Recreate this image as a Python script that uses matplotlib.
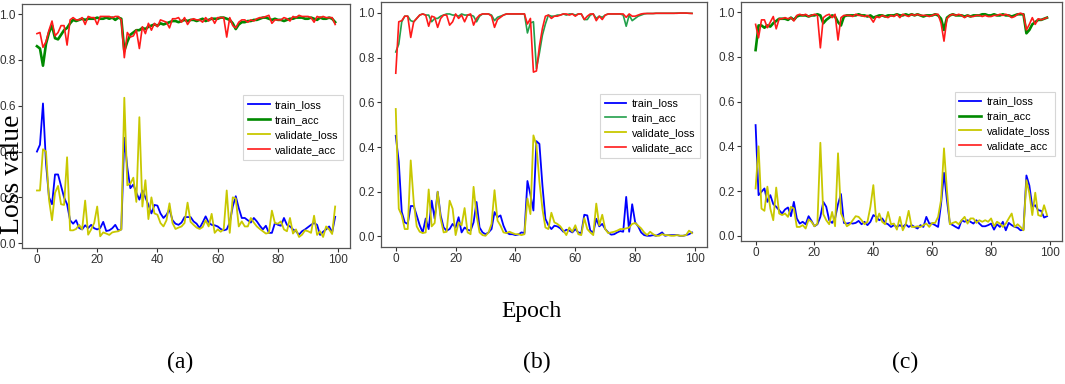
import numpy as np
import matplotlib
matplotlib.use('Agg')
import matplotlib.pyplot as plt
from matplotlib import font_manager

epochs = list(range(100))

# panel (a)
a_train_loss = [0.40, 0.43, 0.61, 0.35, 0.20, 0.17, 0.30, 0.30, 0.25, 0.20,
                0.17, 0.10, 0.085, 0.10, 0.066, 0.06, 0.078, 0.066, 0.08, 0.065,
                0.06, 0.066, 0.093, 0.053, 0.056, 0.065, 0.08, 0.056, 0.06, 0.46,
                0.33, 0.24, 0.256, 0.22, 0.19, 0.23, 0.20, 0.167, 0.13, 0.167,
                0.164, 0.13, 0.11, 0.124, 0.148, 0.10, 0.085, 0.08, 0.09, 0.114,
                0.114, 0.114, 0.095, 0.085, 0.066, 0.09, 0.117, 0.09, 0.08, 0.078,
                0.073, 0.062, 0.056, 0.06, 0.09, 0.16, 0.205, 0.153, 0.11, 0.11,
                0.10, 0.09, 0.11, 0.095, 0.076, 0.06, 0.076, 0.045, 0.045, 0.088,
                0.08, 0.076, 0.11, 0.08, 0.073, 0.06, 0.052, 0.037, 0.052, 0.06,
                0.07, 0.08, 0.088, 0.08, 0.036, 0.05, 0.06, 0.073, 0.047, 0.115]
a_train_acc = [0.86, 0.85, 0.775, 0.87, 0.92, 0.95, 0.895, 0.89, 0.91, 0.93,
               0.94, 0.96, 0.975, 0.97, 0.975, 0.98, 0.975, 0.98, 0.98, 0.98,
               0.985, 0.98, 0.98, 0.985, 0.98, 0.985, 0.975, 0.985, 0.98, 0.84,
               0.88, 0.91, 0.92, 0.93, 0.93, 0.94, 0.935, 0.945, 0.95, 0.955,
               0.95, 0.96, 0.955, 0.96, 0.965, 0.97, 0.97, 0.965, 0.97, 0.975,
               0.97, 0.975, 0.975, 0.97, 0.975, 0.98, 0.97, 0.975, 0.98, 0.98,
               0.98, 0.985, 0.985, 0.98, 0.975, 0.96, 0.935, 0.955, 0.965, 0.965,
               0.97, 0.97, 0.975, 0.975, 0.98, 0.985, 0.985, 0.98, 0.975, 0.98,
               0.975, 0.975, 0.97, 0.975, 0.98, 0.98, 0.985, 0.985, 0.985, 0.98,
               0.98, 0.985, 0.98, 0.975, 0.985, 0.98, 0.98, 0.985, 0.98, 0.965]
a_val_loss = [0.23, 0.23, 0.41, 0.40, 0.19, 0.10, 0.22, 0.25, 0.17, 0.167,
              0.375, 0.056, 0.056, 0.062, 0.08, 0.06, 0.186, 0.037, 0.06, 0.088,
              0.16, 0.03, 0.047, 0.042, 0.036, 0.047, 0.05, 0.052, 0.06, 0.635,
              0.253, 0.26, 0.286, 0.18, 0.55, 0.16, 0.275, 0.105, 0.20, 0.13,
              0.124, 0.088, 0.073, 0.10, 0.174, 0.088, 0.062, 0.068, 0.073, 0.088,
              0.177, 0.093, 0.08, 0.068, 0.062, 0.07, 0.10, 0.073, 0.128, 0.045,
              0.06, 0.05, 0.06, 0.23, 0.045, 0.20, 0.195, 0.073, 0.095, 0.073,
              0.073, 0.11, 0.09, 0.073, 0.062, 0.052, 0.042, 0.045, 0.142, 0.088,
              0.085, 0.095, 0.06, 0.052, 0.11, 0.042, 0.06, 0.027, 0.037, 0.056,
              0.052, 0.045, 0.12, 0.036, 0.052, 0.027, 0.073, 0.06, 0.04, 0.16]
a_val_acc = [0.915, 0.92, 0.855, 0.88, 0.93, 0.97, 0.905, 0.92, 0.95, 0.95,
             0.865, 0.975, 0.985, 0.975, 0.975, 0.985, 0.955, 0.99, 0.985, 0.985,
             0.955, 0.99, 0.99, 0.99, 0.99, 0.985, 0.99, 0.99, 0.975, 0.81,
             0.92, 0.90, 0.905, 0.93, 0.85, 0.945, 0.915, 0.96, 0.93, 0.96,
             0.945, 0.975, 0.97, 0.965, 0.94, 0.98, 0.98, 0.985, 0.965, 0.985,
             0.955, 0.975, 0.98, 0.975, 0.975, 0.965, 0.985, 0.97, 0.985, 0.96,
             0.985, 0.985, 0.985, 0.90, 0.985, 0.95, 0.94, 0.965, 0.975, 0.975,
             0.965, 0.975, 0.97, 0.98, 0.985, 0.985, 0.99, 0.995, 0.96, 0.975,
             0.975, 0.975, 0.985, 0.98, 0.97, 0.99, 0.985, 0.995, 0.99, 0.99,
             0.99, 0.985, 0.965, 0.99, 0.985, 0.99, 0.985, 0.985, 0.985, 0.955]

# panel (b)
b_train_loss = [0.45, 0.335, 0.11, 0.063, 0.056, 0.136, 0.136, 0.094, 0.05, 0.018,
                0.08, 0.033, 0.16, 0.08, 0.20, 0.094, 0.04, 0.026, 0.033, 0.056,
                0.04, 0.086, 0.018, 0.04, 0.03, 0.026, 0.063, 0.154, 0.04, 0.018,
                0.01, 0.018, 0.033, 0.109, 0.086, 0.094, 0.048, 0.018, 0.01, 0.01,
                0.006, 0.009, 0.018, 0.015, 0.248, 0.187, 0.116, 0.426, 0.414, 0.23,
                0.079, 0.05, 0.033, 0.048, 0.045, 0.036, 0.021, 0.03, 0.026, 0.018,
                0.033, 0.018, 0.015, 0.097, 0.094, 0.026, 0.018, 0.079, 0.045, 0.056,
                0.033, 0.018, 0.008, 0.01, 0.018, 0.024, 0.021, 0.177, 0.021, 0.144,
                0.063, 0.045, 0.018, 0.006, 0.003, 0.003, 0.006, 0.003, 0.01, 0.018,
                0.003, 0.006, 0.006, 0.006, 0.006, 0.003, 0.003, 0.006, 0.01, 0.018]
b_train_acc = [0.825, 0.86, 0.96, 0.985, 0.985, 0.965, 0.96, 0.975, 0.99, 0.995,
               0.99, 0.99, 0.96, 0.975, 0.975, 0.985, 0.99, 0.995, 0.995, 0.99,
               0.99, 0.985, 0.995, 0.99, 0.99, 0.99, 0.985, 0.96, 0.985, 0.995,
               0.995, 0.995, 0.99, 0.965, 0.98, 0.985, 0.99, 0.995, 0.995, 0.995,
               0.995, 0.995, 0.995, 0.995, 0.91, 0.955, 0.96, 0.75, 0.82, 0.90,
               0.95, 0.99, 0.985, 0.985, 0.99, 0.99, 0.995, 0.99, 0.995, 0.995,
               0.99, 0.995, 0.995, 0.97, 0.97, 0.99, 0.995, 0.975, 0.985, 0.98,
               0.99, 0.995, 0.995, 0.995, 0.995, 0.995, 0.99, 0.94, 0.99, 0.965,
               0.975, 0.985, 0.99, 0.995, 0.997, 0.997, 0.997, 0.998, 0.998, 0.998,
               0.998, 0.998, 0.998, 0.998, 0.999, 0.999, 0.999, 0.999, 0.998, 0.998]
b_val_loss = [0.57, 0.124, 0.094, 0.033, 0.033, 0.34, 0.154, 0.045, 0.021, 0.015,
              0.018, 0.21, 0.045, 0.06, 0.20, 0.079, 0.018, 0.021, 0.16, 0.124,
              0.006, 0.063, 0.05, 0.127, 0.018, 0.01, 0.222, 0.094, 0.018, 0.006,
              0.003, 0.018, 0.056, 0.207, 0.071, 0.048, 0.018, 0.015, 0.021, 0.015,
              0.01, 0.01, 0.006, 0.01, 0.17, 0.10, 0.452, 0.408, 0.245, 0.124,
              0.04, 0.033, 0.106, 0.063, 0.056, 0.045, 0.026, 0.006, 0.04, 0.021,
              0.05, 0.01, 0.006, 0.082, 0.033, 0.018, 0.006, 0.147, 0.05, 0.097,
              0.033, 0.015, 0.018, 0.021, 0.026, 0.033, 0.033, 0.036, 0.04, 0.056,
              0.06, 0.048, 0.036, 0.018, 0.006, 0.021, 0.01, 0.003, 0.003, 0.01,
              0.006, 0.006, 0.003, 0.003, 0.006, 0.003, 0.003, 0.006, 0.026, 0.015]
b_val_acc = [0.73, 0.96, 0.965, 0.985, 0.985, 0.89, 0.96, 0.975, 0.99, 0.995,
             0.99, 0.94, 0.985, 0.98, 0.935, 0.975, 0.99, 0.99, 0.945, 0.96,
             0.995, 0.975, 0.99, 0.96, 0.99, 0.995, 0.945, 0.975, 0.99, 0.995,
             0.995, 0.995, 0.985, 0.935, 0.97, 0.98, 0.99, 0.995, 0.995, 0.995,
             0.995, 0.995, 0.995, 0.995, 0.95, 0.975, 0.735, 0.74, 0.85, 0.93,
             0.985, 0.99, 0.975, 0.985, 0.985, 0.99, 0.995, 0.995, 0.99, 0.995,
             0.985, 0.995, 0.995, 0.97, 0.985, 0.995, 0.995, 0.965, 0.985, 0.97,
             0.99, 0.995, 0.995, 0.995, 0.995, 0.995, 0.995, 0.98, 0.995, 0.985,
             0.985, 0.99, 0.995, 0.997, 0.997, 0.997, 0.997, 0.998, 0.998, 0.998,
             0.998, 0.998, 0.998, 0.998, 0.998, 0.999, 0.999, 0.999, 0.998, 0.997]

# panel (c)
c_train_loss = [0.495, 0.182, 0.197, 0.212, 0.152, 0.182, 0.142, 0.13, 0.115, 0.10,
                0.118, 0.127, 0.088, 0.152, 0.078, 0.055, 0.063, 0.052, 0.088, 0.067,
                0.043, 0.052, 0.085, 0.152, 0.13, 0.07, 0.058, 0.078, 0.142, 0.187,
                0.058, 0.055, 0.058, 0.055, 0.058, 0.067, 0.052, 0.063, 0.048, 0.063,
                0.093, 0.085, 0.07, 0.078, 0.058, 0.052, 0.04, 0.048, 0.04, 0.048,
                0.04, 0.052, 0.04, 0.048, 0.04, 0.033, 0.048, 0.04, 0.085, 0.055,
                0.055, 0.048, 0.04, 0.142, 0.282, 0.16, 0.055, 0.048, 0.04, 0.033,
                0.07, 0.063, 0.07, 0.063, 0.055, 0.07, 0.055, 0.043, 0.043, 0.048,
                0.055, 0.028, 0.052, 0.04, 0.063, 0.025, 0.058, 0.048, 0.04, 0.037,
                0.025, 0.028, 0.27, 0.225, 0.13, 0.137, 0.115, 0.112, 0.082, 0.088]
c_train_acc = [0.83, 0.94, 0.94, 0.93, 0.94, 0.935, 0.95, 0.96, 0.97, 0.97,
               0.97, 0.965, 0.975, 0.965, 0.98, 0.985, 0.985, 0.985, 0.98, 0.985,
               0.985, 0.99, 0.985, 0.95, 0.965, 0.975, 0.985, 0.98, 0.955, 0.94,
               0.98, 0.985, 0.985, 0.985, 0.985, 0.99, 0.985, 0.985, 0.98, 0.985,
               0.975, 0.98, 0.985, 0.985, 0.98, 0.985, 0.985, 0.985, 0.99, 0.985,
               0.985, 0.99, 0.985, 0.99, 0.985, 0.99, 0.985, 0.98, 0.985, 0.985,
               0.985, 0.99, 0.985, 0.97, 0.92, 0.975, 0.985, 0.99, 0.985, 0.985,
               0.985, 0.98, 0.985, 0.98, 0.985, 0.985, 0.985, 0.99, 0.99, 0.985,
               0.985, 0.99, 0.985, 0.985, 0.99, 0.985, 0.985, 0.98, 0.985, 0.99,
               0.99, 0.99, 0.905, 0.92, 0.945, 0.955, 0.965, 0.965, 0.97, 0.975]
c_val_loss = [0.212, 0.40, 0.122, 0.112, 0.22, 0.122, 0.07, 0.216, 0.10, 0.093,
              0.10, 0.085, 0.13, 0.122, 0.04, 0.04, 0.048, 0.033, 0.073, 0.063,
              0.043, 0.055, 0.416, 0.097, 0.07, 0.052, 0.107, 0.043, 0.369, 0.10,
              0.07, 0.043, 0.052, 0.07, 0.088, 0.085, 0.07, 0.052, 0.063, 0.13,
              0.227, 0.063, 0.10, 0.063, 0.052, 0.107, 0.052, 0.055, 0.028, 0.085,
              0.025, 0.052, 0.112, 0.04, 0.04, 0.043, 0.04, 0.048, 0.055, 0.04,
              0.058, 0.058, 0.085, 0.16, 0.391, 0.204, 0.052, 0.058, 0.063, 0.052,
              0.07, 0.085, 0.055, 0.078, 0.078, 0.058, 0.07, 0.063, 0.07, 0.063,
              0.078, 0.043, 0.063, 0.055, 0.04, 0.055, 0.078, 0.10, 0.04, 0.052,
              0.04, 0.025, 0.249, 0.19, 0.093, 0.193, 0.093, 0.088, 0.137, 0.093]
c_val_acc = [0.945, 0.885, 0.965, 0.965, 0.93, 0.955, 0.98, 0.925, 0.97, 0.97,
             0.975, 0.97, 0.975, 0.96, 0.985, 0.99, 0.985, 0.99, 0.98, 0.985,
             0.99, 0.985, 0.84, 0.975, 0.985, 0.99, 0.975, 0.99, 0.875, 0.975,
             0.985, 0.985, 0.985, 0.98, 0.99, 0.985, 0.985, 0.98, 0.985, 0.975,
             0.955, 0.98, 0.975, 0.985, 0.98, 0.975, 0.985, 0.98, 0.99, 0.975,
             0.99, 0.985, 0.98, 0.99, 0.985, 0.99, 0.985, 0.985, 0.985, 0.98,
             0.985, 0.99, 0.99, 0.95, 0.87, 0.97, 0.985, 0.99, 0.985, 0.99,
             0.985, 0.975, 0.985, 0.98, 0.98, 0.985, 0.985, 0.98, 0.985, 0.98,
             0.98, 0.985, 0.985, 0.99, 0.985, 0.99, 0.985, 0.975, 0.98, 0.99,
             0.995, 0.99, 0.92, 0.945, 0.975, 0.945, 0.97, 0.965, 0.97, 0.975]

panel_labels = ['(a)', '(b)', '(c)']

panels = [
    (a_train_loss, a_train_acc, a_val_loss, a_val_acc),
    (b_train_loss, b_train_acc, b_val_loss, b_val_acc),
    (c_train_loss, c_train_acc, c_val_loss, c_val_acc),
]
# axes boxes in figure fractions [left, bottom, width, height]
boxes = [[0.0207, 0.354, 0.308, 0.635],
         [0.3577, 0.357, 0.306, 0.638],
         [0.6958, 0.372, 0.301, 0.622]]
acc_green = ['#008a00', '#22a04b', '#008a00']
acc_lw = [1.9, 1.2, 1.9]

# narrow sans for ticks / legend if it is there
names = {f.name for f in font_manager.fontManager.ttflist}
small_font = 'Liberation Sans Narrow' if 'Liberation Sans Narrow' in names else 'Liberation Sans'

fig = plt.figure(figsize=(10.65, 3.84), dpi=100)

for i, (tl, ta, vl, va) in enumerate(panels):
    ax = fig.add_axes(boxes[i])
    ax.plot(epochs, tl, color='#0000ff', lw=1.3, label='train_loss')
    ax.plot(epochs, ta, color=acc_green[i], lw=acc_lw[i], label='train_acc')
    ax.plot(epochs, vl, color='#c8c800', lw=1.3, label='validate_loss')
    ax.plot(epochs, va, color='#ff1a1a', lw=1.2, label='validate_acc')
    ax.set_xticks([0, 20, 40, 60, 80, 100])
    ax.set_yticks([0.0, 0.2, 0.4, 0.6, 0.8, 1.0])
    ax.tick_params(labelsize=8.5, colors='#333333', length=3, width=0.8, pad=1.5)
    for lab in ax.get_xticklabels() + ax.get_yticklabels():
        lab.set_family(small_font)
    for s in ax.spines.values():
        s.set_color('#555555')
        s.set_linewidth(0.9)
    leg = ax.legend(loc='upper right', bbox_to_anchor=(0.986, 0.635),
                    prop={'family': small_font, 'size': 7.8},
                    frameon=True, fancybox=False, borderpad=0.45, labelspacing=0.45,
                    handlelength=2.0, handletextpad=0.5, borderaxespad=0.2)
    leg.get_frame().set_edgecolor('#cccccc')
    leg.get_frame().set_linewidth(0.8)

fig.text(0.0, 0.545, 'Loss value', rotation=90, ha='left', va='center',
         family='Liberation Serif', fontsize=20)
fig.text(0.4995, 0.1875, 'Epoch', ha='center', va='center',
         family='Liberation Serif', fontsize=17)
for x, lab in zip([0.169, 0.504, 0.850], panel_labels):
    fig.text(x, 0.057, lab, ha='center', va='center',
             family='Liberation Serif', fontsize=17)

fig.savefig('out.png', dpi=100)
